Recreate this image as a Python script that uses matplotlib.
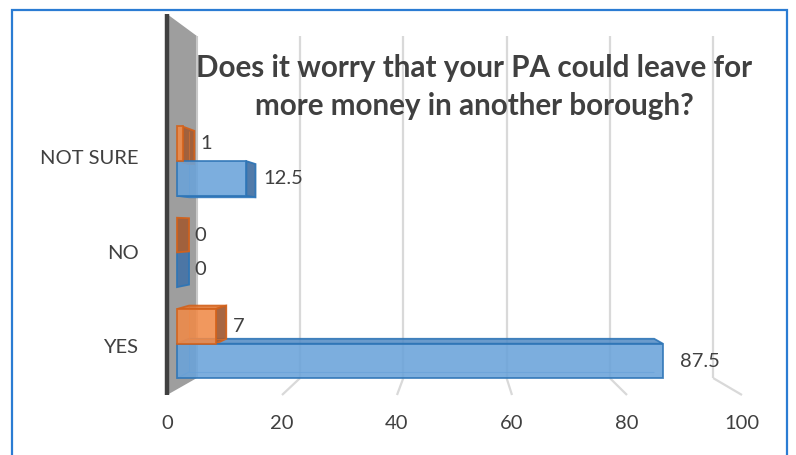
import matplotlib
matplotlib.use("Agg")
import matplotlib.pyplot as plt
from matplotlib.patches import Polygon, Rectangle

# ---- data ----
categories = ["YES", "NO", "NOT SURE"]
series_blue = [87.5, 0, 12.5]
series_orange = [7, 0, 1]
x_ticks = [0, 20, 40, 60, 80, 100]
title = "Does it worry that your PA could leave for\nmore money in another borough?"

# ---- styling / geometry ----
W, H = 796, 455
fig = plt.figure(figsize=(W / 100, H / 100), dpi=100)
plt.rcParams['font.family'] = ['Lato', 'DejaVu Sans']
TXT = "#404040"

# front plane of the 3D box (pixels from top-left)
fx0, fx1 = 167, 742
fy_bot, fy_top = 395, 14
cat_px = 94.5
y_lo = -0.5
y_hi = y_lo + (fy_bot - fy_top) / cat_px
ax = fig.add_axes([fx0 / W, (H - fy_bot) / H, (fx1 - fx0) / W, (fy_bot - fy_top) / H])
ax.set_xlim(0, 100)
ax.set_ylim(y_lo, y_hi)
ax.axis("off")

# perspective: vanishing centre and shrink per unit depth
VX = (459 - fx0) / ((fx1 - fx0) / 100)
VY = (fy_bot - 229) / cat_px - 0.5
K = 0.102


def proj(x, y, z):
    s = 1 - K * z
    return (VX + (x - VX) * s, VY + (y - VY) * s)


def poly(pts, **kw):
    p = Polygon([proj(*q) for q in pts], closed=True, clip_on=False, **kw)
    ax.add_patch(p)
    return p


def line(p, q, **kw):
    a, b = proj(*p), proj(*q)
    ax.plot([a[0], b[0]], [a[1], b[1]], clip_on=False, solid_capstyle="butt", **kw)


# wall
poly([(0, y_lo, 0), (0, y_hi, 0), (0, y_hi, 1), (0, y_lo, 1)],
     facecolor="#9e9e9e", edgecolor="none", zorder=1)
line((0, y_lo, 1), (0, y_hi, 1), color="#c8c8c8", lw=1.5, zorder=1.5)
line((0, y_lo, 0), (0, y_hi, 0), color="#404040", lw=3.2, zorder=2)

# gridlines
for v in x_ticks[1:]:
    line((v, y_lo, 1), (v, y_hi, 1), color="#d9d9d9", lw=1.6, zorder=0.5)
    line((v, y_lo, 1), (v, y_lo, 0), color="#d9d9d9", lw=1.6, zorder=0.5)

# tick labels
for v in x_ticks:
    ax.annotate(str(v), proj(v, y_lo, 0), xytext=(0, -20.5), textcoords="offset points",
                ha="center", va="center", fontsize=14.5, color=TXT, annotation_clip=False)

# category labels
for i, c in enumerate(categories):
    ax.annotate(c, proj(0, i, 0), xytext=(-20.5, 0), textcoords="offset points",
                ha="right", va="center", fontsize=14.5, color=TXT, annotation_clip=False)

Z0, Z1 = 0.336, 0.74
BH = 0.38

styles = {
    "blue": dict(front="#6aa3da", top="#5a90c7", bottom="#5a8cc0", side="#4874a6",
                 edge="#2e75b6", inner="#3f83c4"),
    "orange": dict(front="#f08a48", top="#e27834", bottom="#d47030", side="#a25e38",
                   edge="#d2621c", inner="#d9712e"),
}


def bar3d(v, y0, y1, st):
    ec = st["edge"]
    lw = 1.3
    # faint inner (hidden) edges, visible through the translucent box
    if v > 0:
        line((0, y0, Z1), (0, y1, Z1), color=st["inner"], lw=0.8, alpha=0.6, zorder=3)
        line((0, y0, Z1), (v, y0, Z1), color=st["inner"], lw=0.8, alpha=0.6, zorder=3)
        line((0, y0, Z0), (0, y0, Z1), color=st["inner"], lw=0.8, alpha=0.6, zorder=3)
    if v > 0:
        if y1 < VY:
            poly([(0, y1, Z0), (v, y1, Z0), (v, y1, Z1), (0, y1, Z1)],
                 facecolor=st["top"], edgecolor=ec, lw=lw, alpha=0.9, zorder=2.8)
        if y0 > VY:
            poly([(0, y0, Z0), (v, y0, Z0), (v, y0, Z1), (0, y0, Z1)],
                 facecolor=st["bottom"], edgecolor=ec, lw=lw, alpha=0.9, zorder=2.8)
    if v < VX:
        poly([(v, y0, Z0), (v, y1, Z0), (v, y1, Z1), (v, y0, Z1)],
             facecolor=st["side"], edgecolor=ec, lw=lw, alpha=0.95, zorder=2.9)
    if v > 0:
        poly([(0, y0, Z0), (v, y0, Z0), (v, y1, Z0), (0, y1, Z0)],
             facecolor=st["front"], edgecolor=ec, lw=lw, alpha=0.88, zorder=3.2)
    # data label, placed a fixed gap right of the bar's front face
    xr, ym = proj(v, (y0 + y1) / 2, Z0)
    ax.annotate(f"{v:g}", (xr, ym), xytext=(12.5, 0), textcoords="offset points",
                ha="left", va="center", fontsize=14.5, color=TXT, annotation_clip=False,
                zorder=5)


for i in range(len(categories)):
    bar3d(series_blue[i], i - BH, i, styles["blue"])
    bar3d(series_orange[i], i, i + BH, styles["orange"])

# title
fig.text(474 / W, 1 - 87 / H, title, ha="center", va="center", fontsize=21.3,
         fontweight="bold", color=TXT, linespacing=1.42)

# chart border
fig.patches.append(Rectangle((12 / W, -0.05), (787 - 12) / W, 1 - 10 / H + 0.05,
                             transform=fig.transFigure, fill=False,
                             edgecolor="#2b7cd3", lw=1.6, zorder=10))

fig.savefig("out.png", dpi=100)
